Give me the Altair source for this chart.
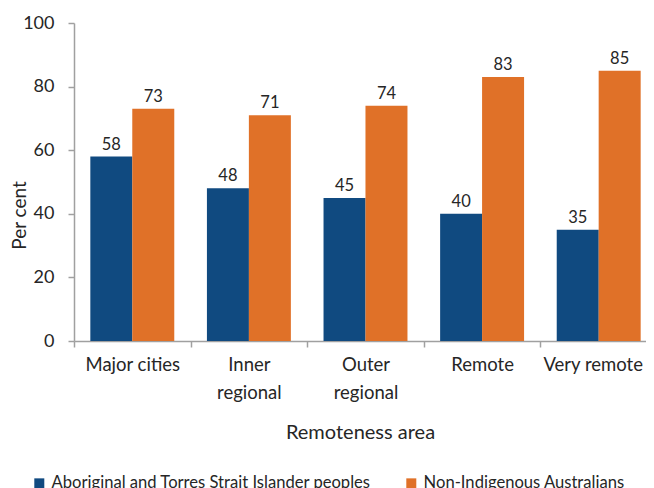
import altair as alt
import pandas as pd

areas = ["Major cities", "Inner regional", "Outer regional", "Remote", "Very remote"]
indigenous = [58, 48, 45, 40, 35]
non_indigenous = [73, 71, 74, 83, 85]
groups = ["Aboriginal and Torres Strait Islander peoples", "Non-Indigenous Australians"]
colors = ["#104A80", "#E07128"]

rows = []
for a, v1, v2 in zip(areas, indigenous, non_indigenous):
    rows.append({"area": a, "group": groups[0], "value": v1})
    rows.append({"area": a, "group": groups[1], "value": v2})
df = pd.DataFrame(rows)

FONT = "Lato"

x = alt.X(
    "area:N",
    sort=areas,
    title="Remoteness area",
    scale=alt.Scale(paddingInner=0, paddingOuter=0, range=[0, 583]),
    axis=alt.Axis(
        labelAngle=0,
        tickBand="extent",
        labelExpr="datum.label == 'Inner regional' ? ['Inner', 'regional'] : datum.label == 'Outer regional' ? ['Outer', 'regional'] : datum.label",
        labelOffset={"condition": {"test": "datum.value == 'Very remote'", "value": -6}, "value": 0},
        labelLineHeight=28,
        labelPadding=8,
        labelFontSize=18.5,
        titleFontSize=20,
        titleFontWeight="normal",
        tickSize=6,
        titleY=97,
        titleBaseline="alphabetic",
        titleX=286,
    ),
)
y = alt.Y(
    "value:Q",
    title="Per cent",
    scale=alt.Scale(domain=[0, 100]),
    axis=alt.Axis(
        values=[0, 20, 40, 60, 80, 100],
        grid=False,
        labelFontSize=18,
        titleFontSize=19,
        titleFontWeight="normal",
        tickSize=6,
        labelPadding=14,
        titleX=-49,
        titleY=192,
        titleBaseline="alphabetic",
    ),
)
xoff = alt.XOffset("group:N", sort=groups, scale=alt.Scale(paddingOuter=0.39, paddingInner=0))
color = alt.Color(
    "group:N",
    sort=groups,
    scale=alt.Scale(domain=groups, range=colors),
    legend=alt.Legend(
        title=None,
        orient="none",
        legendX=-43,
        legendY=452,
        direction="horizontal",
        columns=2,
        columnPadding=32,
        symbolType="square",
        symbolSize=100,
        symbolStrokeWidth=0,
        symbolOffset=0,
        labelFontSize=16.6,
        labelOffset=4,
        labelLimit=500,
    ),
)

bars = alt.Chart(df).mark_bar(size=42).encode(x=x, y=y, xOffset=xoff, color=color)
labels = alt.Chart(df).mark_text(dy=-7, baseline="alphabetic", fontSize=16.5, font=FONT, color="#262626").encode(
    x=x, y=y, xOffset=xoff, text="value:Q"
)

chart = (
    alt.layer(bars, labels)
    .properties(
        width=572,
        height=318,
        autosize=alt.AutoSizeParams(type="none"),
        padding={"left": 66, "top": 15, "right": 0, "bottom": 159},
    )
    .configure_view(stroke=None)
    .configure_axis(
        domainColor="#A0A0A0",
        tickColor="#A0A0A0",
        domainWidth=1.5,
        tickWidth=1.5,
        labelColor="#262626",
        titleColor="#262626",
        labelFont=FONT,
        titleFont=FONT,
    )
    .configure_legend(labelFont=FONT, labelColor="#262626")
)

chart.save("out.html", embed_options={"renderer": "svg", "actions": False})
